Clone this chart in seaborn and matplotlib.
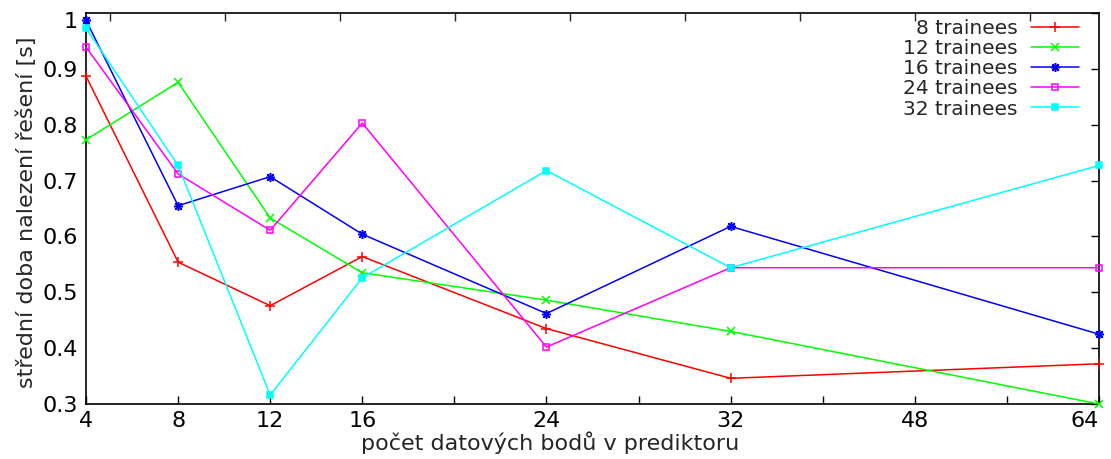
import numpy as np
import matplotlib
matplotlib.use("Agg")
import matplotlib.pyplot as plt
import matplotlib.transforms as mtransforms
import seaborn as sns
import pandas as pd

# Number of data points in the predictor (x positions)
points = [4, 8, 12, 16, 24, 32, 64]

# Mean time to find a solution [s] for each trainee count
t8 = [0.887, 0.554, 0.476, 0.564, 0.435, 0.346, 0.372]
t12 = [0.773, 0.876, 0.633, 0.535, 0.486, 0.430, 0.300]
t16 = [0.987, 0.655, 0.707, 0.604, 0.462, 0.618, 0.425]
t24 = [0.939, 0.712, 0.611, 0.803, 0.402, 0.544, 0.544]
t32 = [0.973, 0.727, 0.316, 0.526, 0.718, 0.544, 0.727]

series_labels = ["8 trainees", "12 trainees", "16 trainees", "24 trainees", "32 trainees"]

x_ticks = [4, 8, 12, 16, 20, 24, 28, 32, 40, 48, 56, 64]
x_tick_labels = ["4", "8", "12", "16", "", "24", "", "32", "", "48", "", "64"]
y_ticks = [0.3, 0.4, 0.5, 0.6, 0.7, 0.8, 0.9, 1.0]
y_tick_labels = ["0.3", "0.4", "0.5", "0.6", "0.7", "0.8", "0.9", "1"]

rows = []
for lab, vals in zip(series_labels, [t8, t12, t16, t24, t32]):
    for x, v in zip(points, vals):
        rows.append({"points": x, "time": v, "series": lab})
df = pd.DataFrame(rows)

sns.set_theme(style="white")
plt.rcParams["font.family"] = ["DejaVu Sans"]

fig = plt.figure(figsize=(11.11, 4.59), dpi=100)
ax = fig.add_axes([86 / 1111, 1 - 404 / 459, 1013 / 1111, 391 / 459])

# piecewise-linear x axis: step 4 up to 32, step 8 above
brk_x = [4, 32, 64]
brk_u = [0, 7, 11]
fwd = lambda v: np.interp(v, brk_x, brk_u)
inv = lambda u: np.interp(u, brk_u, brk_x)
ax.set_xscale("function", functions=(fwd, inv))

palette = ["#ff0000", "#00ff00", "#0000ff", "#ff00ff", "#00ffff"]
markers = ["+", "x", (8, 2, 0), "s", "s"]
faces = ["#ff0000", "#00ff00", "#0000ff", "none", "#00ffff"]
sizes = [7, 5.5, 6.5, 5, 5]

for lab, col, mk, fc, ms in zip(series_labels, palette, markers, faces, sizes):
    sub = df[df["series"] == lab]
    sns.lineplot(data=sub, x="points", y="time", ax=ax, color=col, lw=1.1,
                 marker=mk, markersize=ms, markerfacecolor=fc,
                 markeredgecolor=col, markeredgewidth=1.1, label=lab,
                 sort=False, clip_on=False, zorder=3)

ax.set_xlim(4, 64)
ax.set_ylim(0.3, 1.0)
ax.set_xticks(x_ticks)
ax.set_xticklabels(x_tick_labels)
ax.set_yticks(y_ticks)
ax.set_yticklabels(y_tick_labels)
ax.minorticks_off()

ax.tick_params(axis="both", direction="in", length=6, width=1.0, labelsize=16,
               colors="black")
ax.tick_params(axis="x", pad=5, top=False)
ax.tick_params(axis="y", pad=6, right=True)
for s in ax.spines.values():
    s.set_color("black")
    s.set_linewidth(1.2)

# keep the last x label inside the frame and the top y label below the border
ax.get_xticklabels()[-1].set_horizontalalignment("right")
top_lab = ax.get_yticklabels()[-1]
top_lab.set_transform(top_lab.get_transform() +
                      mtransforms.ScaledTranslation(0, -7 / 100, fig.dpi_scale_trans))

# ticks along the top border
ax2 = ax.twiny()
ax2.set_xlim(0, 1013)
ax2.set_xticks(np.arange(24, 1013, 115))
ax2.set_xticklabels([])
ax2.tick_params(axis="x", direction="in", length=6, width=1.0, top=True, bottom=False)
ax2.grid(False)
for s in ax2.spines.values():
    s.set_visible(False)

ax.set_xlabel("počet datových bodů v prediktoru", fontsize=16)
ax.set_ylabel("střední doba nalezení řešení [s]", fontsize=16)
ax.xaxis.set_label_coords((550 - 86) / 1013, -0.07)
ax.yaxis.set_label_coords(-0.048, 0.49)

leg = ax.legend(loc="upper right", frameon=False, markerfirst=False, fontsize=14.5,
                handlelength=2.35, handletextpad=0.7, labelspacing=0.06,
                borderaxespad=0.0, bbox_to_anchor=(0.988, 1.006))

fig.savefig("out.png", dpi=100)
